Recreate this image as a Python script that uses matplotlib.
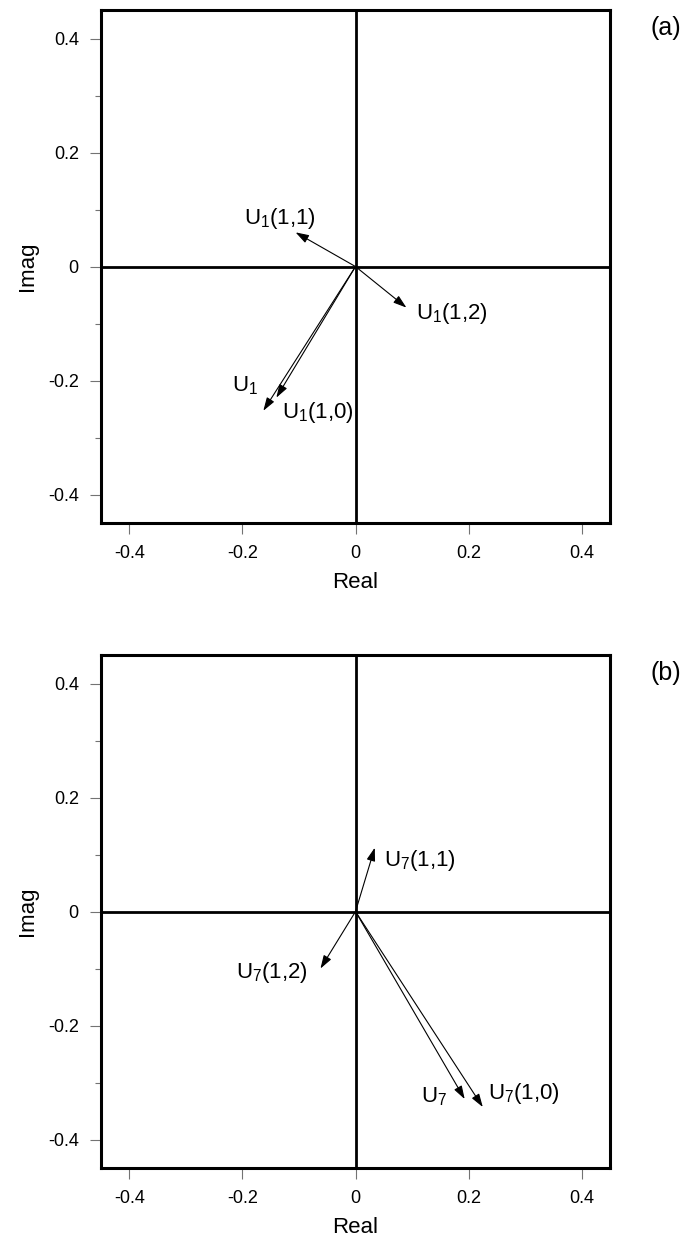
import matplotlib
matplotlib.use('Agg')
import matplotlib.pyplot as plt
import numpy as np

plt.rcParams['font.family'] = ['Liberation Sans', 'DejaVu Sans']
plt.rcParams['mathtext.fontset'] = 'custom'
plt.rcParams['mathtext.rm'] = 'Liberation Sans'
plt.rcParams['mathtext.it'] = 'Liberation Sans'
plt.rcParams['mathtext.default'] = 'regular'
plt.rcParams['axes.unicode_minus'] = False

# phasors, panel (a)
names_a = ['U$_1$', 'U$_1$(1,0)', 'U$_1$(1,1)', 'U$_1$(1,2)']
real_a = [-0.163, -0.140, -0.106, 0.090]
imag_a = [-0.253, -0.230, 0.060, -0.072]

# phasors, panel (b)
names_b = ['U$_7$', 'U$_7$(1,0)', 'U$_7$(1,1)', 'U$_7$(1,2)']
real_b = [0.193, 0.225, 0.034, -0.062]
imag_b = [-0.329, -0.343, 0.112, -0.100]

ticks = [-0.4, -0.2, 0, 0.2, 0.4]
tick_labels = ['-0.4', '-0.2', '0', '0.2', '0.4']
minor_ticks = [-0.3, -0.1, 0.1, 0.3]

# label offsets from arrow tips (points) and alignment
offs_a = [((-4, 18), 'right'), ((4, -11), 'left'), ((-37, 10), 'left'), ((7, -4), 'left')]
offs_b = [((-13, 2), 'right'), ((4, 10), 'left'), ((7, -9), 'left'), ((-9, -3), 'right')]


def draw_panel(ax, names, re, im, offs, tag):
    ax.set_xlim(-0.45, 0.45)
    ax.set_ylim(-0.45, 0.45)
    ax.axhline(0, color='black', lw=2, zorder=1)
    ax.axvline(0, color='black', lw=2, zorder=1)
    for n, x, y, (o, ha) in zip(names, re, im, offs):
        ax.annotate('', xy=(x, y), xytext=(0, 0),
                    arrowprops=dict(arrowstyle='-|>,head_length=0.4,head_width=0.13',
                                    color='black', lw=0.8, shrinkA=0, shrinkB=0,
                                    mutation_scale=20))
        ax.annotate(n, xy=(x, y), xytext=o, textcoords='offset points',
                    ha=ha, va='center', fontsize=16)
    ax.set_xticks(ticks)
    ax.set_xticklabels(tick_labels)
    ax.set_yticks(ticks)
    ax.set_yticklabels(tick_labels)
    ax.set_yticks(minor_ticks, minor=True)
    ax.tick_params(which='major', direction='out', length=8, width=0.8,
                   color='0.45', labelsize=13)
    ax.tick_params(axis='x', pad=8)
    ax.tick_params(axis='y', pad=8)
    ax.tick_params(which='minor', direction='out', length=4, width=0.8, color='0.45')
    for s in ax.spines.values():
        s.set_linewidth(2.2)
    ax.set_xlabel('Real', fontsize=16, labelpad=7)
    ax.set_ylabel('Imag', fontsize=16, labelpad=7)
    ax.text(1.11, 0.965, tag, transform=ax.transAxes, ha='center', va='center',
            fontsize=18)


fig = plt.figure(figsize=(6.89, 12.43), dpi=100)
ax1 = fig.add_axes([0.1466, 0.5792, 0.7388, 0.4127])
ax2 = fig.add_axes([0.1466, 0.0603, 0.7388, 0.4127])

draw_panel(ax1, names_a, real_a, imag_a, offs_a, '(a)')
draw_panel(ax2, names_b, real_b, imag_b, offs_b, '(b)')

fig.savefig('out.png', dpi=100)
